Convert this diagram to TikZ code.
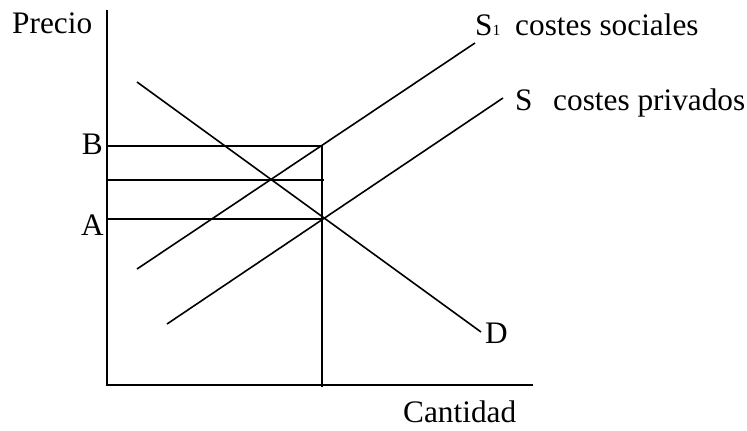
\documentclass[tikz,border=0pt]{standalone}
\usepackage{fontspec}
\setmainfont{Liberation Serif}
\begin{document}
\begin{tikzpicture}[x=1pt,y=-1pt,
  ln/.style={line width=1.6pt,line cap=butt},
  lbl/.style={inner sep=0pt,font=\fontsize{31.3}{33}\selectfont}]
\useasboundingbox (0,0) rectangle (747,431);
% axes
\coordinate (ytop) at (107,10);
\coordinate (orig) at (107,385);
\coordinate (xend) at (533,385);
\draw[ln] (ytop) -- (orig) -- (xend);
% curves
\coordinate (d0) at (137,82);
\coordinate (d1) at (481,332);
\coordinate (s10) at (137,269);
\coordinate (s11) at (475,43);
\coordinate (s0) at (167,324);
\coordinate (s1) at (503,98);
\draw[ln] (d0) -- (d1);
\draw[ln] (s10) -- (s11);
\draw[ln] (s0) -- (s1);
% price levels
\coordinate (bL) at (107,146);
\coordinate (bR) at (322,146);
\coordinate (mL) at (107,180);
\coordinate (mR) at (324,180);
\coordinate (aL) at (107,219);
\coordinate (aR) at (322,219);
\coordinate (vB) at (322,387);
\draw[ln] (bL) -- (bR);
\draw[ln] (mL) -- (mR);
\draw[ln] (aL) -- (aR);
\draw[ln] (bR) -- (vB);
% labels
\node[lbl,anchor=base west] (precio) at (12,33) {Precio};
\node[lbl,anchor=base west] (S1) at (475,35) {S{\fontsize{15.5}{16}\selectfont 1}};
\node[lbl,anchor=base west] (cs) at (515,35) {costes sociales};
\node[lbl,anchor=base west] (S) at (515,110) {S};
\node[lbl,anchor=base west] (cp) at (553,110) {costes privados};
\node[lbl,anchor=base east] (B) at (103,154) {B};
\node[lbl,anchor=base east] (A) at (104,235) {A};
\node[lbl,anchor=base west] (D) at (485,343) {D};
\node[lbl,anchor=base west] (cant) at (403,422) {Cantidad};
\end{tikzpicture}
\end{document}
